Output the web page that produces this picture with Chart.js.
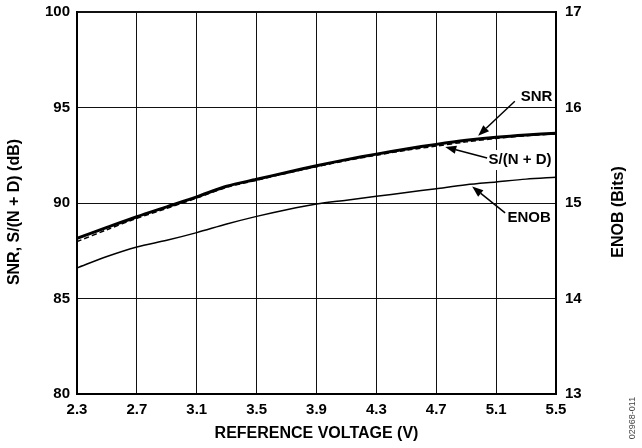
<!DOCTYPE html>
<html>
<head>
<meta charset="utf-8">
<script src="https://cdn.jsdelivr.net/npm/chart.js@4/dist/chart.umd.min.js"></script>
<style>
  html, body { margin: 0; padding: 0; background: #fff; }
  canvas { display: block; }
</style>
</head>
<body>
<canvas id="chart" width="642" height="448"></canvas>
<script>
// Reference voltage sweep (V)
const voltage = [2.3, 2.5, 2.7, 2.9, 3.1, 3.3, 3.5, 3.7, 3.9, 4.1, 4.3, 4.5, 4.7, 4.9, 5.1, 5.3, 5.5];
// Signal-to-noise ratio (dB)
const snr   = [88.15, 88.72, 89.28, 89.80, 90.32, 90.88, 91.24, 91.60, 91.95, 92.27, 92.56, 92.83, 93.07, 93.28, 93.44, 93.56, 93.65];
// Signal-to-(noise + distortion) (dB)
const sinad = [87.98, 88.60, 89.20, 89.72, 90.26, 90.82, 91.19, 91.56, 91.90, 92.22, 92.50, 92.76, 92.98, 93.20, 93.38, 93.52, 93.62];
// Effective number of bits
const enob  = [14.32, 14.44, 14.54, 14.61, 14.69, 14.78, 14.86, 14.93, 14.99, 15.03, 15.07, 15.11, 15.15, 15.19, 15.22, 15.25, 15.27];

// Axis ticks
const xTicks   = [2.3, 2.7, 3.1, 3.5, 3.9, 4.3, 4.7, 5.1, 5.5];
const dbTicks  = [80, 85, 90, 95, 100];
const bitTicks = [13, 14, 15, 16, 17];

// Curve callouts, positioned in (V, dB) data units
const callouts = [
  { text: 'SNR',       at: [5.37, 95.55], from: [5.225, 95.33], to: [4.98, 93.52], box: false },
  { text: 'S/(N + D)', at: [5.26, 92.25], from: [5.04, 92.36],  to: [4.76, 92.93], box: true },
  { text: 'ENOB',      at: [5.32, 89.21], from: [5.16, 89.48],  to: [4.94, 90.86], box: false }
];

const FONT = 'Liberation Sans, Arial, Helvetica, sans-serif';
Chart.defaults.font.family = FONT;
Chart.defaults.color = '#000';

function zeroPad(scale) {
  scale.paddingTop = 0; scale.paddingBottom = 0;
  scale.paddingLeft = 0; scale.paddingRight = 0;
}
function setTicks(list) {
  return scale => { scale.ticks = list.map(v => ({ value: v })); };
}

function arrow(ctx, x0, y0, x1, y1) {
  const ang = Math.atan2(y1 - y0, x1 - x0);
  const len = 11, half = 4.2;
  const bx = x1 - len * Math.cos(ang), by = y1 - len * Math.sin(ang);
  ctx.beginPath();
  ctx.moveTo(x0, y0);
  ctx.lineTo(bx, by);
  ctx.stroke();
  ctx.beginPath();
  ctx.moveTo(x1, y1);
  ctx.lineTo(bx + half * Math.sin(ang), by - half * Math.cos(ang));
  ctx.lineTo(bx - half * Math.sin(ang), by + half * Math.cos(ang));
  ctx.closePath();
  ctx.fill();
}

const decorations = {
  id: 'decorations',
  afterDraw(chart) {
    const { ctx, scales: { x, y }, chartArea } = chart;
    ctx.save();
    ctx.fillStyle = '#000';
    ctx.strokeStyle = '#000';
    ctx.lineWidth = 1.5;
    ctx.font = 'bold 15px ' + FONT;
    ctx.textAlign = 'center';
    ctx.textBaseline = 'middle';
    callouts.forEach(c => {
      const tx = x.getPixelForValue(c.at[0]), ty = y.getPixelForValue(c.at[1]);
      if (c.box) {
        const w = ctx.measureText(c.text).width;
        ctx.fillStyle = '#fff';
        ctx.fillRect(tx - w / 2 - 2, ty - 10, w + 4, 20);
        ctx.fillStyle = '#000';
      }
      ctx.fillText(c.text, tx, ty);
      arrow(ctx,
        x.getPixelForValue(c.from[0]), y.getPixelForValue(c.from[1]),
        x.getPixelForValue(c.to[0]), y.getPixelForValue(c.to[1]));
    });

    // Vertical axis titles
    const midY = (chartArea.top + chartArea.bottom) / 2 + 9;
    ctx.font = 'bold 16px ' + FONT;
    ctx.save();
    ctx.translate(15, midY);
    ctx.rotate(-Math.PI / 2);
    ctx.fillText('SNR, S/(N + D) (dB)', 0, 0);
    ctx.restore();
    ctx.save();
    ctx.translate(619, midY);
    ctx.rotate(-Math.PI / 2);
    ctx.fillText('ENOB (Bits)', 0, 0);
    ctx.restore();

    // Figure number
    ctx.save();
    ctx.translate(633, 418);
    ctx.rotate(-Math.PI / 2);
    ctx.font = '9px ' + FONT;
    ctx.fillStyle = '#444';
    ctx.fillText('02968-011', 0, 0);
    ctx.restore();
    ctx.restore();
  }
};

new Chart(document.getElementById('chart'), {
  type: 'line',
  data: {
    datasets: [
      {
        label: 'SNR',
        data: voltage.map((v, i) => ({ x: v, y: snr[i] })),
        yAxisID: 'y',
        borderColor: '#000',
        borderWidth: 3,
        pointRadius: 0,
        tension: 0.3
      },
      {
        label: 'S/(N + D)',
        data: voltage.map((v, i) => ({ x: v, y: sinad[i] })),
        yAxisID: 'y',
        borderColor: '#000',
        borderWidth: 1.5,
        borderDash: [5, 3],
        pointRadius: 0,
        tension: 0.3
      },
      {
        label: 'ENOB',
        data: voltage.map((v, i) => ({ x: v, y: enob[i] })),
        yAxisID: 'y2',
        borderColor: '#000',
        borderWidth: 1.5,
        pointRadius: 0,
        tension: 0.3
      }
    ]
  },
  options: {
    responsive: false,
    devicePixelRatio: 1,
    animation: false,
    layout: { padding: { top: 12, left: 0, right: 0, bottom: 0 } },
    plugins: { legend: { display: false }, tooltip: { enabled: false } },
    scales: {
      x: {
        type: 'linear',
        position: 'bottom',
        min: 2.3,
        max: 5.5,
        afterBuildTicks: setTicks(xTicks),
        afterFit: s => { s.height = 54; zeroPad(s); },
        grid: { color: '#111', lineWidth: 1, drawTicks: false },
        border: { color: '#000', width: 2 },
        ticks: {
          font: { size: 15, weight: 'bold' },
          color: '#000',
          padding: 7,
          maxRotation: 0,
          autoSkip: false,
          callback: v => v.toFixed(1)
        },
        title: {
          display: true,
          text: 'REFERENCE VOLTAGE (V)',
          font: { size: 16, weight: 'bold' },
          color: '#000',
          padding: { top: 0, bottom: 5 }
        }
      },
      y: {
        type: 'linear',
        position: 'left',
        min: 80,
        max: 100,
        afterBuildTicks: setTicks(dbTicks),
        afterFit: s => { s.width = 77; zeroPad(s); },
        grid: {
          color: '#111',
          lineWidth: c => (c.tick && c.tick.value === 100 ? 2 : 1),
          drawTicks: false
        },
        border: { color: '#000', width: 2 },
        ticks: {
          font: { size: 15, weight: 'bold' },
          color: '#000',
          padding: 7
        }
      },
      y2: {
        type: 'linear',
        position: 'right',
        min: 13,
        max: 17,
        afterBuildTicks: setTicks(bitTicks),
        afterFit: s => { s.width = 86; zeroPad(s); },
        grid: { display: false, drawTicks: false },
        border: { color: '#000', width: 2 },
        ticks: {
          font: { size: 15, weight: 'bold' },
          color: '#000',
          padding: 9
        }
      }
    }
  },
  plugins: [decorations]
});
</script>
</body>
</html>
